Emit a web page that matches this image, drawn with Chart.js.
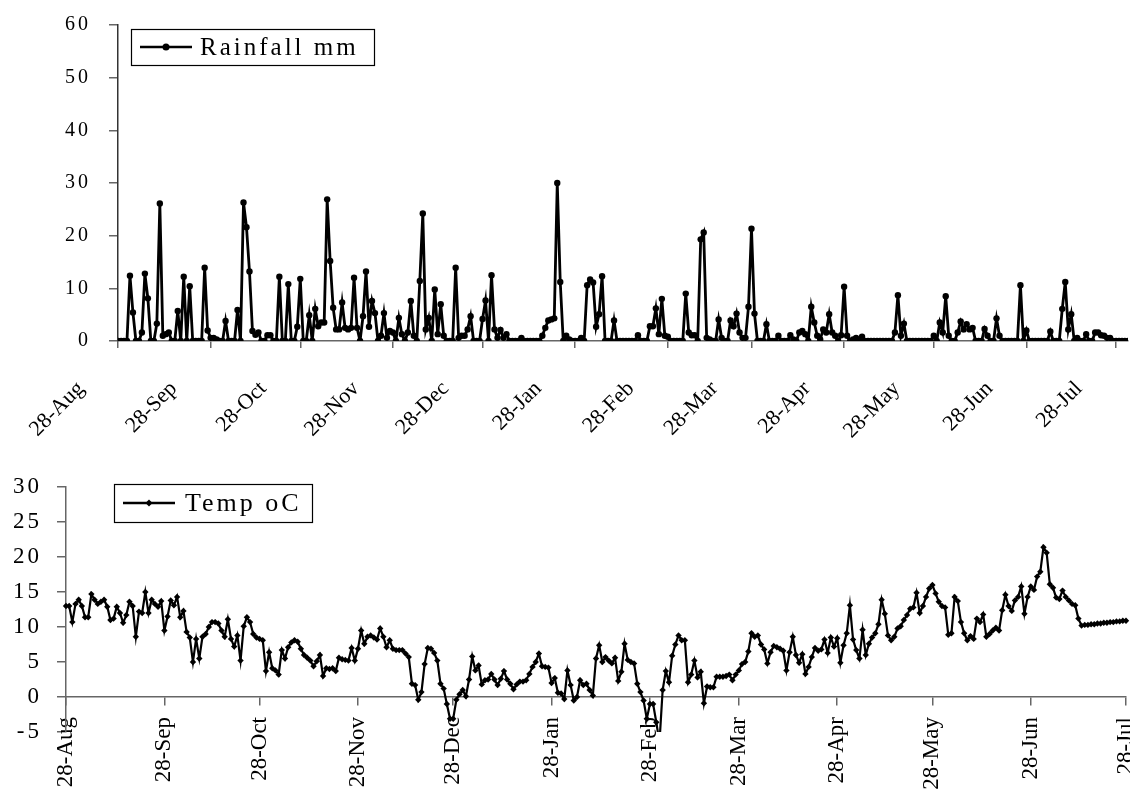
<!DOCTYPE html>
<html>
<head>
<meta charset="utf-8">
<script src="https://cdn.jsdelivr.net/npm/chart.js@4"></script>
<style>
  body { margin: 0; background: #fff; }
  #rain-chart { position: absolute; left: 0; top: 0; }
  #temp-chart { position: absolute; left: 0; top: 470px; }
</style>
</head>
<body>
<canvas id="rain-chart" width="1130" height="470"></canvas>
<canvas id="temp-chart" width="1130" height="322"></canvas>
<script>
// days counted from 28-Aug
const tickDays = [0, 31, 61, 92, 122, 153, 184, 212, 243, 273, 304, 334];
const tickLabels = ['28-Aug', '28-Sep', '28-Oct', '28-Nov', '28-Dec', '28-Jan',
  '28-Feb', '28-Mar', '28-Apr', '28-May', '28-Jun', '28-Jul'];

// daily rainfall, mm
const rainfall = [
  0, 0, 0, 0, 12.4, 5.4, 0, 0, 1.6, 12.8,
  8.1, 0, 0, 3.3, 26.1, 1.0, 1.3, 1.6, 0, 0,
  5.7, 0, 12.2, 0, 10.4, 0, 0, 0, 0, 13.9,
  2.0, 0.6, 0.6, 0.3, 0, 0, 3.8, 0, 0, 0,
  5.9, 0, 26.3, 21.6, 13.2, 1.9, 1.2, 1.6, 0, 0,
  1.1, 1.1, 0, 0, 12.2, 0, 0, 10.8, 0, 0,
  2.7, 11.8, 0, 0, 4.9, 0, 6.1, 2.8, 3.5, 3.5,
  26.9, 15.2, 6.3, 2.2, 2.2, 7.3, 2.5, 2.2, 2.5, 12.0,
  2.5, 0, 4.7, 13.2, 2.7, 7.6, 5.3, 0, 1.0, 5.3,
  0.6, 1.9, 1.6, 0, 4.4, 1.3, 0, 1.6, 7.6, 1.0,
  0, 11.4, 24.2, 2.2, 4.4, 0, 9.8, 1.3, 7.0, 1.0,
  0, 0, 0, 13.9, 0.6, 1.0, 1.0, 2.2, 4.7, 0,
  0, 0, 4.2, 7.7, 0, 12.5, 2.2, 0.6, 2.1, 0.6,
  1.3, 0, 0, 0, 0, 0.6, 0, 0, 0, 0,
  0, 0, 1.0, 2.5, 3.9, 4.1, 4.3, 30.0, 11.2, 0,
  1.0, 0.3, 0, 0, 0, 0.6, 0, 10.6, 11.7, 11.1,
  2.7, 5.1, 12.3, 0, 0, 0, 3.9, 0, 0, 0,
  0, 0, 0, 0, 1.1, 0, 0, 0, 2.8, 2.8,
  6.2, 1.3, 8.0, 1.0, 0.8, 0, 0, 0, 0, 0,
  9.0, 1.6, 1.1, 1.1, 0, 19.3, 20.6, 0.6, 0.3, 0,
  0, 4.1, 0.6, 0, 0, 3.9, 2.8, 5.2, 1.6, 0.6,
  0.6, 6.5, 21.3, 5.2, 0, 0, 0, 3.2, 0, 0,
  0, 1.0, 0, 0, 0, 1.1, 0.3, 0, 1.6, 1.9,
  1.3, 0, 6.5, 3.5, 1.0, 0.3, 2.2, 1.6, 5.1, 1.6,
  1.0, 0, 1.1, 10.3, 1.0, 0, 0.3, 0.6, 0, 0.8,
  0, 0, 0, 0, 0, 0, 0, 0, 0, 0,
  1.6, 8.7, 1.0, 3.3, 0, 0, 0, 0, 0, 0,
  0, 0, 0, 1.0, 0, 3.5, 1.6, 8.5, 1.0, 0,
  0, 1.6, 3.7, 2.2, 3.2, 2.2, 2.5, 0, 0, 0,
  2.3, 1.0, 0, 0, 4.3, 1.0, 0, 0, 0, 0,
  0, 0, 10.6, 0, 2.0, 0, 0, 0, 0, 0,
  0, 0, 1.8, 0, 0, 0, 6.1, 11.2, 2.2, 5.1,
  0, 0.6, 0, 0, 1.3, 0, 0, 1.6, 1.6, 1.1,
  1.0, 0.6, 0.6, 0, 0, 0, 0, 0, 0
];

// daily mean temperature, oC
const temperature = [
  13.0, 13.0, 10.7, 13.3, 13.9, 13.0, 11.4, 11.4, 14.7, 13.9,
  13.3, 13.6, 13.9, 12.9, 11.0, 11.2, 12.9, 12.0, 10.6, 11.7,
  13.6, 13.0, 8.6, 12.2, 12.0, 15.0, 12.0, 13.9, 13.3, 12.9,
  13.7, 9.5, 11.5, 13.8, 13.1, 14.3, 11.4, 12.3, 9.3, 8.5,
  5.0, 8.3, 5.5, 8.6, 9.0, 10.0, 10.7, 10.7, 10.5, 9.5,
  8.6, 11.1, 8.3, 7.2, 8.8, 5.2, 10.1, 11.4, 10.7, 9.0,
  8.5, 8.3, 8.1, 3.7, 6.4, 4.1, 3.8, 3.2, 6.7, 5.5,
  7.1, 7.8, 8.1, 7.9, 6.9, 6.0, 5.6, 5.2, 4.4, 5.1,
  6.0, 3.0, 4.1, 4.0, 4.1, 3.7, 5.6, 5.4, 5.3, 5.2,
  7.0, 5.2, 6.9, 9.5, 7.6, 8.6, 8.8, 8.5, 8.2, 9.8,
  8.6, 7.1, 8.1, 6.9, 6.7, 6.7, 6.7, 6.2, 5.7, 1.9,
  1.7, -0.4, 0.7, 4.7, 7.0, 6.9, 6.3, 5.2, 1.9, 1.2,
  -1.0, -3.1, -3.1, -0.4, 0.4, 1.0, 0.1, 2.5, 5.8, 3.8,
  4.5, 1.8, 2.4, 2.5, 3.3, 2.5, 1.7, 2.6, 3.7, 2.5,
  1.9, 1.1, 1.8, 2.2, 2.2, 2.4, 3.3, 4.3, 5.0, 6.2,
  4.4, 4.3, 4.2, 2.0, 2.7, 0.6, 0.5, -0.3, 3.8, 1.7,
  -0.5, 0.0, 2.4, 1.7, 1.9, 1.0, 0.2, 5.5, 7.4, 5.0,
  5.7, 5.2, 4.8, 5.6, 2.3, 3.6, 7.6, 5.3, 5.0, 4.8,
  1.9, 0.7, -0.5, -3.1, -1.0, -1.0, -3.6, -6.5, 1.0, 3.7,
  2.1, 5.9, 7.5, 8.8, 8.1, 8.1, 2.1, 3.2, 5.2, 2.8,
  3.6, -0.9, 1.5, 1.4, 1.4, 2.9, 2.9, 2.9, 3.0, 3.2,
  2.4, 3.2, 3.8, 4.7, 5.0, 6.5, 9.1, 8.6, 8.8, 7.5,
  6.8, 4.8, 6.4, 7.3, 7.1, 6.9, 6.6, 3.8, 6.4, 8.6,
  6.0, 4.9, 6.1, 3.3, 4.3, 5.7, 7.0, 6.6, 6.8, 8.2,
  6.3, 8.5, 7.2, 8.4, 4.9, 7.4, 9.1, 13.1, 8.2, 6.7,
  5.5, 9.6, 6.0, 7.6, 8.5, 9.1, 10.4, 13.9, 11.9, 8.8,
  8.1, 8.6, 9.8, 10.1, 11.0, 11.7, 12.6, 12.8, 14.9, 12.0,
  13.0, 14.3, 15.5, 16.0, 14.8, 13.6, 13.0, 12.8, 8.9, 9.1,
  14.3, 13.7, 10.7, 9.1, 8.1, 8.7, 8.3, 11.2, 10.7, 11.8,
  8.6, 9.0, 9.5, 9.9, 9.5, 12.4, 14.6, 13.0, 12.3, 13.8,
  14.3, 15.8, 11.9, 14.3, 15.8, 15.3, 17.2, 17.9, 21.4, 20.6,
  16.1, 15.6, 14.2, 14.0, 15.2, 14.3, 13.8, 13.3, 13.1, 11.2,
  10.2, 10.3, 10.3, 10.4, 10.4, 10.5, 10.5, 10.6, 10.6, 10.7,
  10.7, 10.8, 10.8, 10.9, 10.9
];

Chart.defaults.font.family = '"Liberation Serif", "Times New Roman", serif';
Chart.defaults.color = '#000';
const axisColor = '#666';

// y tick labels in the original are spaced out a bit
const spacedTicks = {
  id: 'spacedTicks',
  afterDatasetsDraw(chart) { chart.ctx.letterSpacing = '3px'; },
  afterDraw(chart) { chart.ctx.letterSpacing = '0px'; }
};

// legend with a frame, drawn inside the plot area
function boxLegend(o) {
  return {
    id: 'boxLegend',
    afterDraw(chart) {
      const ctx = chart.ctx, a = chart.chartArea;
      const x = a.left + o.dx, y = a.top + o.dy, my = y + o.h / 2;
      ctx.save();
      ctx.fillStyle = '#fff';
      ctx.fillRect(x, y, o.w, o.h);
      ctx.strokeStyle = '#000';
      ctx.lineWidth = 1.2;
      ctx.strokeRect(x + 0.5, y + 0.5, o.w, o.h);
      ctx.lineWidth = 2.5;
      ctx.beginPath();
      ctx.moveTo(x + 9, my);
      ctx.lineTo(x + 61, my);
      ctx.stroke();
      ctx.fillStyle = '#000';
      ctx.beginPath();
      if (o.marker === 'diamond') {
        ctx.moveTo(x + 35, my - 3.5);
        ctx.lineTo(x + 38.5, my);
        ctx.lineTo(x + 35, my + 3.5);
        ctx.lineTo(x + 31.5, my);
        ctx.closePath();
      } else {
        ctx.arc(x + 35, my, 3.5, 0, Math.PI * 2);
      }
      ctx.fill();
      ctx.font = o.size + 'px "Liberation Serif"';
      ctx.letterSpacing = o.spacing;
      ctx.textBaseline = 'middle';
      ctx.fillText(o.text, x + o.textX, my + 1);
      ctx.restore();
    }
  };
}

// chart.js pads the plot for overhanging labels; the original doesn't
function noLabelPadding(scale) {
  scale.paddingLeft = 0;
  scale.paddingRight = 0;
  scale.paddingTop = 0;
  scale.paddingBottom = 0;
}

function dayAxis(max, extra) {
  return Object.assign({
    type: 'linear',
    min: 0,
    max: max,
    afterBuildTicks: (scale) => { scale.ticks = tickDays.map(v => ({ value: v })); },
    grid: { drawOnChartArea: false, tickLength: 7, color: axisColor, lineWidth: 1.5 },
    border: { color: axisColor, width: 1.5 }
  }, extra);
}

const rainChart = new Chart(document.getElementById('rain-chart'), {
  type: 'line',
  data: {
    datasets: [{
      data: rainfall.map((v, i) => ({ x: i, y: v })),
      borderColor: '#000',
      backgroundColor: '#000',
      borderWidth: 2.8,
      pointRadius: 3.2,
      pointBorderWidth: 0,
      tension: 0
    }]
  },
  options: {
    responsive: false,
    animation: false,
    layout: { autoPadding: false, padding: { top: 25, right: 2, left: 0, bottom: 0 } },
    plugins: { legend: { display: false }, tooltip: { enabled: false } },
    scales: {
      x: dayAxis(338, {
        afterFit: (scale) => { scale.height = 129; noLabelPadding(scale); },
        ticks: {
          autoSkip: false, minRotation: 45, maxRotation: 45,
          labelOffset: -37, padding: 28, font: { size: 22 },
          callback: (v, i) => tickLabels[i]
        }
      }),
      y: {
        min: 0, max: 60,
        afterFit: (scale) => { scale.width = 118; noLabelPadding(scale); },
        ticks: { stepSize: 10, padding: 18, font: { size: 20 }, z: 1 },
        grid: { drawOnChartArea: false, tickLength: 9, color: axisColor, lineWidth: 1.5 },
        border: { color: '#333', width: 1.5 }
      }
    }
  },
  plugins: [spacedTicks, boxLegend({
    dx: 13, dy: 4, w: 243, h: 36, textX: 69,
    text: 'Rainfall mm', size: 25, spacing: '3px', marker: 'circle'
  })]
});

const tempChart = new Chart(document.getElementById('temp-chart'), {
  type: 'line',
  data: {
    datasets: [{
      data: temperature.map((v, i) => ({ x: i, y: v })),
      borderColor: '#000',
      backgroundColor: '#000',
      borderWidth: 2.2,
      pointStyle: 'rectRot',
      pointRadius: 3.2,
      pointBorderWidth: 0,
      tension: 0,
      clip: { left: 6, top: 6, right: 6, bottom: 0 }
    }]
  },
  options: {
    responsive: false,
    animation: false,
    layout: { autoPadding: false, padding: { top: 17, right: 4, left: 0, bottom: 60 } },
    plugins: { legend: { display: false }, tooltip: { enabled: false } },
    scales: {
      x: dayAxis(334, {
        position: { y: 0 },
        afterFit: noLabelPadding,
        grid: { drawOnChartArea: false, tickLength: 8, color: axisColor, lineWidth: 1.5 },
        ticks: {
          autoSkip: false, minRotation: 90, maxRotation: 90,
          padding: 12, font: { size: 23 },
          callback: (v, i) => tickLabels[i]
        }
      }),
      y: {
        min: -5, max: 30,
        afterFit: (scale) => { scale.width = 66; noLabelPadding(scale); },
        ticks: { stepSize: 5, padding: 15, font: { size: 23 }, z: 1 },
        grid: { drawOnChartArea: false, tickLength: 9, color: axisColor, lineWidth: 1.5 },
        border: { color: axisColor, width: 1.5 }
      }
    }
  },
  plugins: [spacedTicks, boxLegend({
    dx: 48, dy: -3, w: 198, h: 38, textX: 71,
    text: 'Temp oC', size: 26, spacing: '3px', marker: 'diamond'
  })]
});
</script>
</body>
</html>
